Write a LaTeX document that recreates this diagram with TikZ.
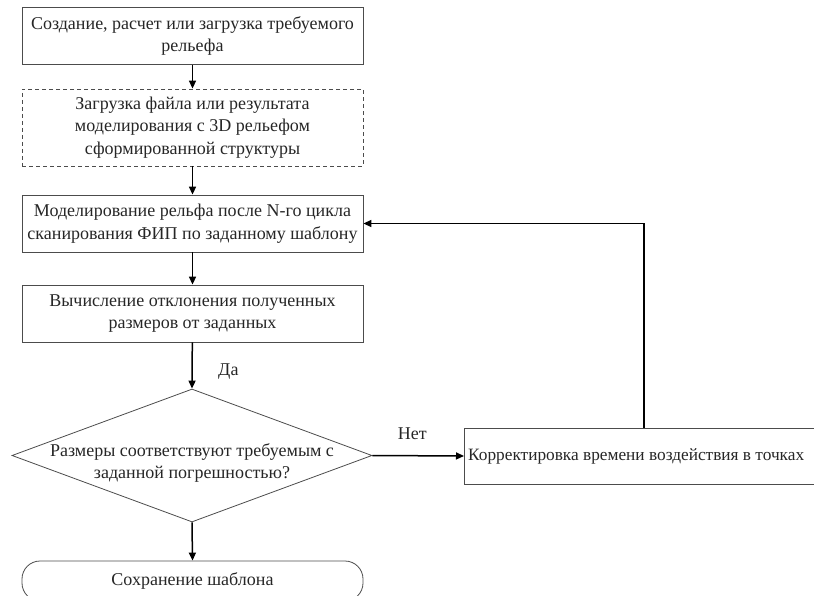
\documentclass[tikz,border=0pt]{standalone}
\usepackage{fontspec}
\setmainfont{Liberation Serif}
\usetikzlibrary{shapes.geometric,arrows.meta}
\begin{document}
\begin{tikzpicture}[x=1pt,y=-1pt,
  every node/.style={font=\fontsize{18}{22.5}\selectfont, text=black!85},
  procbox/.style={draw=black!70, line width=0.8pt, minimum width=341pt, minimum height=57pt, align=center, inner sep=0pt},
  dashbox/.style={procbox, dashed, dash pattern=on 4pt off 3pt},
  decbox/.style={draw=black!70, line width=0.8pt, diamond, minimum width=360pt, minimum height=133pt, inner sep=0pt},
  termbox/.style={draw=black!70, line width=0.8pt, rounded corners=18pt, minimum width=341pt, minimum height=40pt, inner sep=0pt},
  conn/.style={draw=black, line width=1.5pt, -{Triangle[length=8pt,width=7pt]}}
]
\useasboundingbox (0,0) rectangle (814,596);
\node[procbox] (b1) at (192.5,36) {Создание, расчет или загрузка требуемого\\рельефа};
\node[dashbox, minimum height=77pt] (b2) at (192.5,127.5) {Загрузка файла или результата\\моделирования с 3D рельефом\\сформированной структуры};
\node[procbox] (b3) at (192.5,223.5) {Моделирование рельфа после N-го цикла\\сканирования ФИП по заданному шаблону};
\node[procbox] (b4) at (192.5,313.5) {Вычисление отклонения полученных\\размеров от заданных};
\node[decbox] (d) at (192,455.5) {};
\node[align=center, inner sep=0pt] (dt) at (192,463) {Размеры соответствуют требуемым с\\заданной погрешностью?};
\node[termbox] (t) at (192.5,581) {Сохранение шаблона};
\node[draw=black!70, line width=0.8pt, minimum width=440pt, minimum height=56pt, inner sep=0pt, anchor=west] (c) at (464,456) {};
\node[anchor=west, inner sep=0pt, font=\fontsize{17.3}{22}\selectfont] (ct) at (468,456) {Корректировка времени воздействия в точках};
\coordinate (up) at (644,223.5);

\draw[conn] (b1) -- (b2);
\draw[conn] (b2) -- (b3);
\draw[conn] (b3) -- (b4);
\draw[conn] (b4) -- node[right, xshift=22pt, yshift=-6pt] (da) {Да} (d.north);
\draw[conn] (d.south) -- (t.north);
\draw[conn] (d.east) -- node[above, yshift=12pt, xshift=-6pt] (net) {Нет} (c.west);
\draw[conn] (c.north -| up) -- (up) -- (b3.east);
\end{tikzpicture}
\end{document}
